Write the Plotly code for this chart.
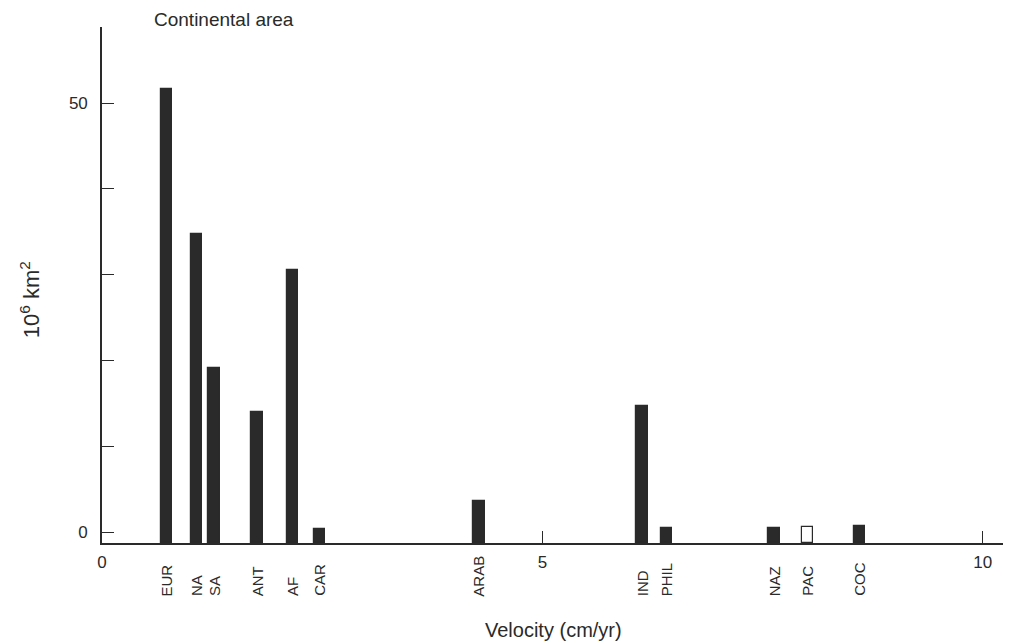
import plotly.graph_objects as go

# ---- data ----
plates = ["EUR", "NA", "SA", "ANT", "AF", "CAR", "ARAB", "IND", "PHIL", "NAZ", "PAC", "COC"]
velocity = [0.73, 1.07, 1.27, 1.76, 2.16, 2.47, 4.28, 6.13, 6.41, 7.63, 8.01, 8.60]
area = [51.6, 34.7, 19.1, 14.0, 30.5, 0.4, 3.6, 14.7, 0.5, 0.5, 0.6, 0.7]
hollow = ["PAC"]

x_ticks = [0, 5, 10]
x_tick_labels = ["0", "5", "10"]
y_ticks = [0, 50]
y_tick_labels = ["0", "50"]
y_minor_step = 10

# ---- styling ----
Y_FLOOR = -1.28
Y_TOP = 58.86
X_MAX = 10.32
FONT = "Liberation Sans, Arial, sans-serif"
INK = "#2a2a2a"

fill = ["white" if p in hollow else INK for p in plates]

fig = go.Figure()
fig.add_trace(go.Bar(
    x=velocity,
    y=[a - Y_FLOOR for a in area],
    base=Y_FLOOR,
    width=0.13,
    marker=dict(color=fill, line=dict(color=INK, width=1.2)),
    showlegend=False,
    hoverinfo="skip",
))

annotations = []
for p, v in zip(plates, velocity):
    annotations.append(dict(
        x=v, xref="x", y=-0.107, yref="paper",
        text=p, textangle=-90, showarrow=False,
        xanchor="center", yanchor="bottom",
        font=dict(size=15, color=INK, family=FONT),
    ))

annotations.append(dict(
    x=0.57, xref="x", y=1.0155, yref="paper", text="Continental area",
    showarrow=False, xanchor="left", yanchor="middle",
    font=dict(size=19, color=INK, family=FONT),
))
annotations.append(dict(
    x=5.13, xref="x", y=-0.169, yref="paper", text="Velocity (cm/yr)",
    showarrow=False, xanchor="center", yanchor="middle",
    font=dict(size=20, color=INK, family=FONT),
))
annotations.append(dict(
    x=-0.079, xref="paper", y=0.471, yref="paper", text="10<sup>6</sup> km<sup>2</sup>",
    showarrow=False, textangle=-90, xanchor="center", yanchor="middle",
    font=dict(size=22, color=INK, family=FONT),
))

# the page body adds an 8 px margin, so the figure is sized and offset to fit
fig.update_layout(
    width=1003, height=636,
    margin=dict(l=94, r=0, t=19, b=101),
    paper_bgcolor="white", plot_bgcolor="white",
    font=dict(family=FONT, color=INK, size=17),
    bargap=0,
    annotations=annotations,
    xaxis=dict(
        range=[0, X_MAX], showgrid=False, zeroline=False,
        showline=True, linecolor=INK, linewidth=2,
        tickmode="array", tickvals=x_ticks, ticktext=x_tick_labels,
        ticks="inside", ticklen=12, tickwidth=1.3, tickcolor=INK,
        ticklabelstandoff=3,
        tickfont=dict(size=17, color=INK, family=FONT),
    ),
    yaxis=dict(
        range=[Y_FLOOR, Y_TOP], showgrid=False, zeroline=False,
        showline=True, linecolor=INK, linewidth=1.6,
        tickmode="array", tickvals=y_ticks, ticktext=y_tick_labels,
        ticks="inside", ticklen=12, tickwidth=1.3, tickcolor=INK,
        minor=dict(tick0=0, dtick=y_minor_step, ticks="inside", ticklen=12,
                   tickwidth=1.3, tickcolor=INK, showgrid=False),
        ticklabelstandoff=9,
        tickfont=dict(size=17, color=INK, family=FONT),
    ),
)

fig.write_html("out.html")
